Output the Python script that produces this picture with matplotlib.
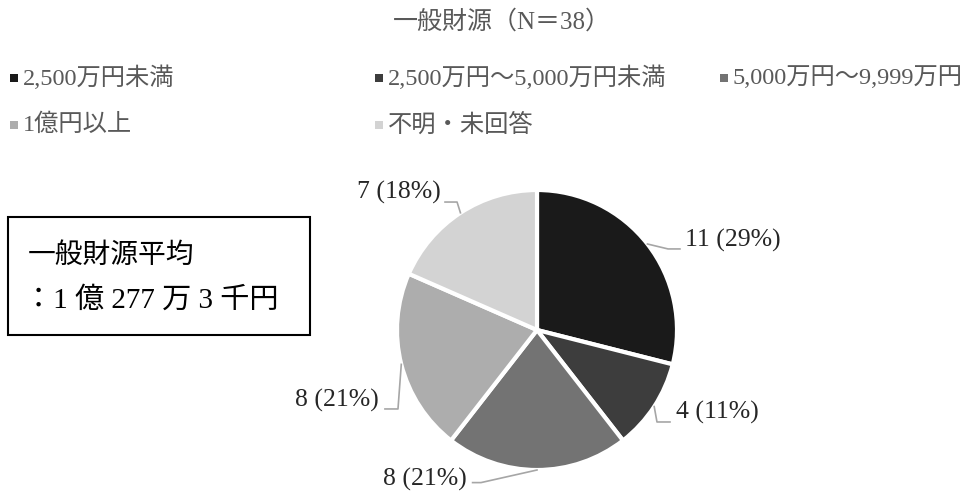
import matplotlib.pyplot as plt
from matplotlib.patches import Rectangle
import numpy as np

plt.rcParams['font.family'] = ['Liberation Serif', 'Noto Sans CJK JP']

# data
categories = ['2,500万円未満', '2,500万円～5,000万円未満', '5,000万円～9,999万円',
              '1億円以上', '不明・未回答']
counts = [11, 4, 8, 8, 7]
colors = ['#1a1a1a', '#3d3d3d', '#737373', '#adadad', '#d3d3d3']
title = '一般財源（N＝38）'
avg_lines = ['一般財源平均', '：1 億 277 万 3 千円']

W, H = 965, 494
fig = plt.figure(figsize=(W / 100, H / 100), dpi=100)


def fx(px):
    return px / W


def fy(py):
    return 1 - py / H


fig.text(fx(502), fy(22), title, ha='center', va='center', fontsize=18, color='#595959')

# legend laid out row by row
legend_pos = [(10, 78), (375, 78), (720, 78), (10, 125), (375, 125)]
for (x, y), lab, c in zip(legend_pos, categories, colors):
    fig.add_artist(Rectangle((fx(x), fy(y + 4)), 8 / W, 8 / H, transform=fig.transFigure,
                             facecolor=c, edgecolor='none'))
    fig.text(fx(x + 13), fy(y), lab, ha='left', va='center', fontsize=17.5, color='#595959')

# average box
fig.add_artist(Rectangle((fx(8), fy(335)), 302 / W, 118 / H, transform=fig.transFigure,
                         fill=False, edgecolor='black', linewidth=1.5))
fig.text(fx(28), fy(256), avg_lines[0], ha='left', va='center', fontsize=20, color='black')
fig.text(fx(24), fy(300), avg_lines[1], ha='left', va='center', fontsize=21, color='black')

# pie
cx, cy, r = 537, 330, 140
ax = fig.add_axes([fx(cx - r), fy(cy + r), 2 * r / W, 2 * r / H])
wedges, _ = ax.pie(counts, colors=colors, startangle=90, counterclock=False, radius=1,
                   wedgeprops=dict(edgecolor='white', linewidth=3))
ax.set_xlim(-1, 1)
ax.set_ylim(-1, 1)
ax.set_aspect('equal')

# leader lines: elbow point, end point, text anchor, alignment
leaders = [
    ((0.936, 0.579), (1.021, 0.579), (1.06, 0.64), 'left'),
    ((0.857, -0.657), (0.95, -0.657), (0.99, -0.59), 'left'),
    ((-0.40, -1.09), (-0.46, -1.09), (-0.50, -1.064), 'right'),
    ((-0.993, -0.564), (-1.086, -0.564), (-1.13, -0.50), 'right'),
    ((-0.571, 0.914), (-0.657, 0.914), (-0.69, 0.98), 'right'),
]
total = sum(counts)
for w, n, (elb, end, tpos, ha) in zip(wedges, counts, leaders):
    mid = np.deg2rad((w.theta1 + w.theta2) / 2)
    sx, sy = np.cos(mid), np.sin(mid)
    ax.plot([sx, elb[0], end[0]], [sy, elb[1], end[1]], color='#a6a6a6', lw=1.2, clip_on=False)
    pct = round(n / total * 100)
    ax.text(tpos[0], tpos[1], f'{n} ({pct}%)', ha=ha, va='center', fontsize=18.5,
            color='#262626')

fig.savefig('out.png', dpi=100)
